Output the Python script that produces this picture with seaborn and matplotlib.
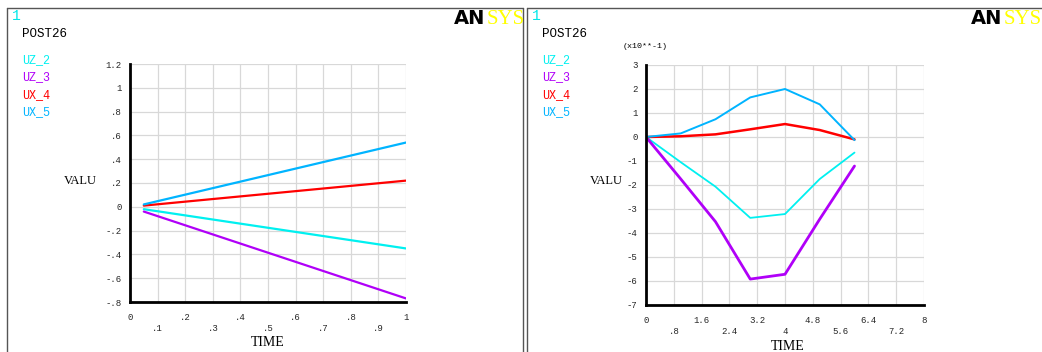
import numpy as np
import pandas as pd
import matplotlib
matplotlib.use('Agg')
import matplotlib.pyplot as plt
import seaborn as sns
from matplotlib.lines import Line2D

# DATA

names = ['UZ_2', 'UZ_3', 'UX_4', 'UX_5']
colors = ['#00f0f0', '#b000f8', '#ff0000', '#00b4ff']

# left plot (linear load step)
time_a = [0.05, 1.0]
uz2_a = [-0.02, -0.35]
uz3_a = [-0.04, -0.77]
ux4_a = [0.01, 0.22]
ux5_a = [0.02, 0.54]

# right plot (values in x10**-1)
time_b = [0, 1, 2, 3, 4, 5, 6]
uz2_b = [0, -1.05, -2.07, -3.37, -3.21, -1.75, -0.65]
uz3_b = [0, -1.75, -3.53, -5.92, -5.72, -3.42, -1.21]
ux4_b = [0, 0.03, 0.11, 0.32, 0.54, 0.29, -0.10]
ux5_b = [0, 0.15, 0.74, 1.65, 2.0, 1.36, -0.13]

xticks_a = [0, .1, .2, .3, .4, .5, .6, .7, .8, .9, 1]
xlabels_a = ['0', '.1', '.2', '.3', '.4', '.5', '.6', '.7', '.8', '.9', '1']
yticks_a = [1.2, 1, .8, .6, .4, .2, 0, -.2, -.4, -.6, -.8]
ylabels_a = ['1.2', '1', '.8', '.6', '.4', '.2', '0', '-.2', '-.4', '-.6', '-.8']
xticks_b = [0, .8, 1.6, 2.4, 3.2, 4, 4.8, 5.6, 6.4, 7.2, 8]
xlabels_b = ['0', '.8', '1.6', '2.4', '3.2', '4', '4.8', '5.6', '6.4', '7.2', '8']
yticks_b = [3, 2, 1, 0, -1, -2, -3, -4, -5, -6, -7]
ylabels_b = ['3', '2', '1', '0', '-1', '-2', '-3', '-4', '-5', '-6', '-7']


def long_form(t, series):
    rows = []
    for name, vals in zip(names, series):
        for x, v in zip(t, vals):
            rows.append({'TIME': x, 'VALU': v, 'var': name})
    return pd.DataFrame(rows)


df_a = long_form(time_a, [uz2_a, uz3_a, ux4_a, ux5_a])
df_b = long_form(time_b, [uz2_b, uz3_b, ux4_b, ux5_b])

sns.set_style('white')
plt.rcParams['font.family'] = ['Liberation Mono', 'DejaVu Sans Mono']

fig = plt.figure(figsize=(10.42, 3.52), dpi=100)
W, H = 1042, 352


def fx(px):
    return px / W


def fy(py):
    return 1 - py / H


def panel(ax, df, widths, xt, xl, yt, yl, xlim, ylim):
    for name, col, lw in zip(names, colors, widths):
        sns.lineplot(data=df[df['var'] == name], x='TIME', y='VALU', color=col,
                     linewidth=lw, ax=ax, legend=False)
    ax.set_xlim(*xlim)
    ax.set_ylim(*ylim)
    ax.set_xticks(xt)
    ax.set_xticklabels([l if i % 2 == 0 else '\n' + l for i, l in enumerate(xl)], fontsize=6.5)
    ax.set_yticks(yt)
    ax.set_yticklabels(yl, fontsize=6.5)
    ax.grid(True, color='#d8d8d8', linewidth=0.9)
    ax.set_axisbelow(True)
    for s in ['top', 'right']:
        ax.spines[s].set_visible(False)
    for s in ['left', 'bottom']:
        ax.spines[s].set_color('black')
        ax.spines[s].set_linewidth(2)
    ax.tick_params(axis='x', length=4, color='#d8d8d8', pad=4)
    ax.tick_params(axis='y', length=0, pad=6)
    ax.set_xlabel('')
    ax.set_ylabel('')


ax1 = fig.add_axes([fx(130), fy(302), fx(276), 238 / H])
panel(ax1, df_a, [1.6, 1.6, 1.6, 1.6], xticks_a, xlabels_a, yticks_a, ylabels_a, (0, 1), (-0.8, 1.2))

ax2 = fig.add_axes([fx(646), fy(305), fx(278), 240 / H])
panel(ax2, df_b, [1.3, 2.0, 1.8, 1.4], xticks_b, xlabels_b, yticks_b, ylabels_b, (0, 8), (-7, 3))

# panel frames
for x0 in [7, 527]:
    fig.add_artist(Line2D([fx(x0), fx(x0)], [fy(8), 0], color='#555555', lw=1))
    fig.add_artist(Line2D([fx(x0), fx(x0 + 516)], [fy(8), fy(8)], color='#555555', lw=1))
fig.add_artist(Line2D([fx(523), fx(523)], [fy(8), 0], color='#555555', lw=1))

# header texts, legend and axis names
for x0, vx, tx, ty, lx in [(0, 64, 268, 343, 454), (520, 590, 788, 346, 451)]:
    fig.text(fx(x0 + 12), fy(16), '1', color='#00e8e8', fontsize=10.5, va='center')
    fig.text(fx(x0 + 22), fy(34), 'POST26', color='black', fontsize=9, va='center')
    for i, (name, col) in enumerate(zip(names, colors)):
        fig.text(fx(x0 + 22), fy(60 + i * 17.5), name, color=col, fontsize=8.5, va='center')
    fig.text(fx(vx), fy(181), 'VALU', color='black', fontsize=9, va='center',
             family=['Liberation Serif'])
    fig.text(fx(tx), fy(ty), 'TIME', color='black', fontsize=10, ha='center', va='center',
             family=['Liberation Serif'])
    fig.text(fx(x0 + lx), fy(19), 'AN', color='black', fontsize=14, fontweight='bold',
             va='center', family=['DejaVu Sans'])
    fig.text(fx(x0 + lx + 33), fy(19), 'SYS', color='#ffff00', fontsize=15, va='center',
             family=['Liberation Serif'])

fig.text(fx(623), fy(47), '(x10**-1)', color='black', fontsize=6, va='center')

fig.savefig('out.png', dpi=100)
